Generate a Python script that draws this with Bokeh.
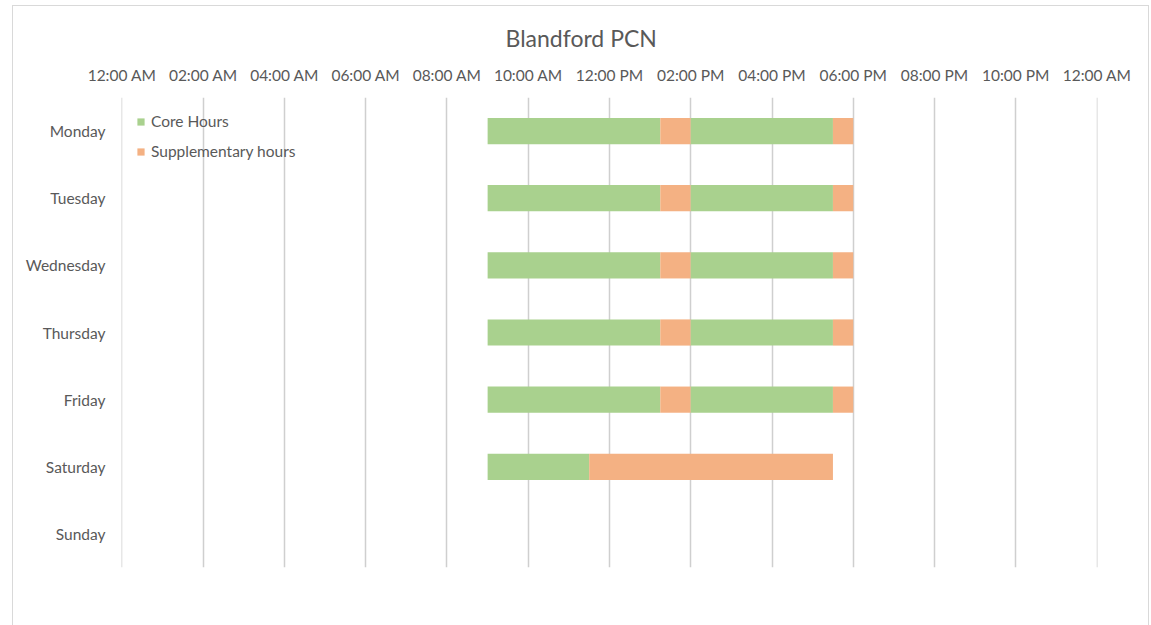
import numpy as np
from bokeh.plotting import figure
from bokeh.models import FactorRange, FixedTicker, Range1d, Legend, LegendItem
from bokeh.embed import file_html
from bokeh.resources import INLINE

# ---- data (hours since midnight) ----
days = ["Monday", "Tuesday", "Wednesday", "Thursday", "Friday", "Saturday", "Sunday"]
start_hour = [9, 9, 9, 9, 9, 9, 0]
core_a = [4.25, 4.25, 4.25, 4.25, 4.25, 2.5, 0]
supp_a = [0.75, 0.75, 0.75, 0.75, 0.75, 6.0, 0]
core_b = [3.5, 3.5, 3.5, 3.5, 3.5, 0, 0]
supp_b = [0.5, 0.5, 0.5, 0.5, 0.5, 0, 0]

tick_hours = [0, 2, 4, 6, 8, 10, 12, 14, 16, 18, 20, 22, 24]
tick_labels = ["12:00 AM", "02:00 AM", "04:00 AM", "06:00 AM", "08:00 AM", "10:00 AM",
               "12:00 PM", "02:00 PM", "04:00 PM", "06:00 PM", "08:00 PM", "10:00 PM", "12:00 AM"]

GREEN = "#A9D18E"
ORANGE = "#F4B183"
TXT = "#595959"
FONT = "Lato"

p = figure(
    width=1137, height=620,
    y_range=FactorRange(factors=days[::-1], range_padding=0),
    x_range=Range1d(-0.012, 24.012),
    x_axis_location="above",
    output_backend="svg", toolbar_location=None,
    min_border_left=108, min_border_right=53, min_border_top=91, min_border_bottom=59,
)
p.margin = (5, 0, 0, 12)
p.styles = {"border-left": "1px solid #D9D9D9", "border-top": "1px solid #D9D9D9",
            "border-right": "1px solid #D9D9D9"}

s = np.array(start_hour, dtype=float)
e1 = s + np.array(core_a)
e2 = e1 + np.array(supp_a)
e3 = e2 + np.array(core_b)
e4 = e3 + np.array(supp_b)

h = 0.39
r1 = p.hbar(y=days, left=s, right=e1, height=h, fill_color=GREEN, line_color=None)
r2 = p.hbar(y=days, left=e1, right=e2, height=h, fill_color=ORANGE, line_color=None)
r3 = p.hbar(y=days, left=e2, right=e3, height=h, fill_color=GREEN, line_color=None)
r4 = p.hbar(y=days, left=e3, right=e4, height=h, fill_color=ORANGE, line_color=None)

legend = Legend(items=[LegendItem(label="Core Hours", renderers=[r1]),
                       LegendItem(label="Supplementary hours", renderers=[r2])],
                location="top_left")
legend.margin = 15
legend.padding = 2
legend.spacing = 12
legend.glyph_width = 9
legend.glyph_height = 9
legend.label_standoff = 6
legend.label_text_font = FONT
legend.label_text_font_size = "15.5px"
legend.label_text_color = TXT
legend.background_fill_alpha = 0
legend.border_line_color = None
p.add_layout(legend)

p.title.text = "Blandford PCN"
p.title.align = "left"
p.title.offset = 384
p.title.standoff = 22
p.title.text_font = FONT
p.title.text_font_size = "23px"
p.title.text_font_style = "normal"
p.title.text_color = TXT

xa = p.xaxis[0]
xa.ticker = FixedTicker(ticks=tick_hours)
xa.major_label_overrides = {t: lab for t, lab in zip(tick_hours, tick_labels)}
xa.axis_line_color = None
xa.major_tick_line_color = None
xa.minor_tick_line_color = None
xa.major_label_text_font = FONT
xa.major_label_text_font_size = "15.5px"
xa.major_label_text_color = TXT
xa.major_label_standoff = 8

ya = p.yaxis[0]
ya.axis_line_color = None
ya.major_tick_line_color = None
ya.major_label_text_font = FONT
ya.major_label_text_font_size = "15.5px"
ya.major_label_text_color = TXT
ya.major_label_standoff = 10

p.xgrid.grid_line_color = "#CFCFCF"
p.xgrid.grid_line_width = 1.5
p.ygrid.grid_line_color = None
p.outline_line_color = None
p.background_fill_color = "white"
p.border_fill_color = "white"

open("out.html", "w").write(file_html(p, INLINE))
